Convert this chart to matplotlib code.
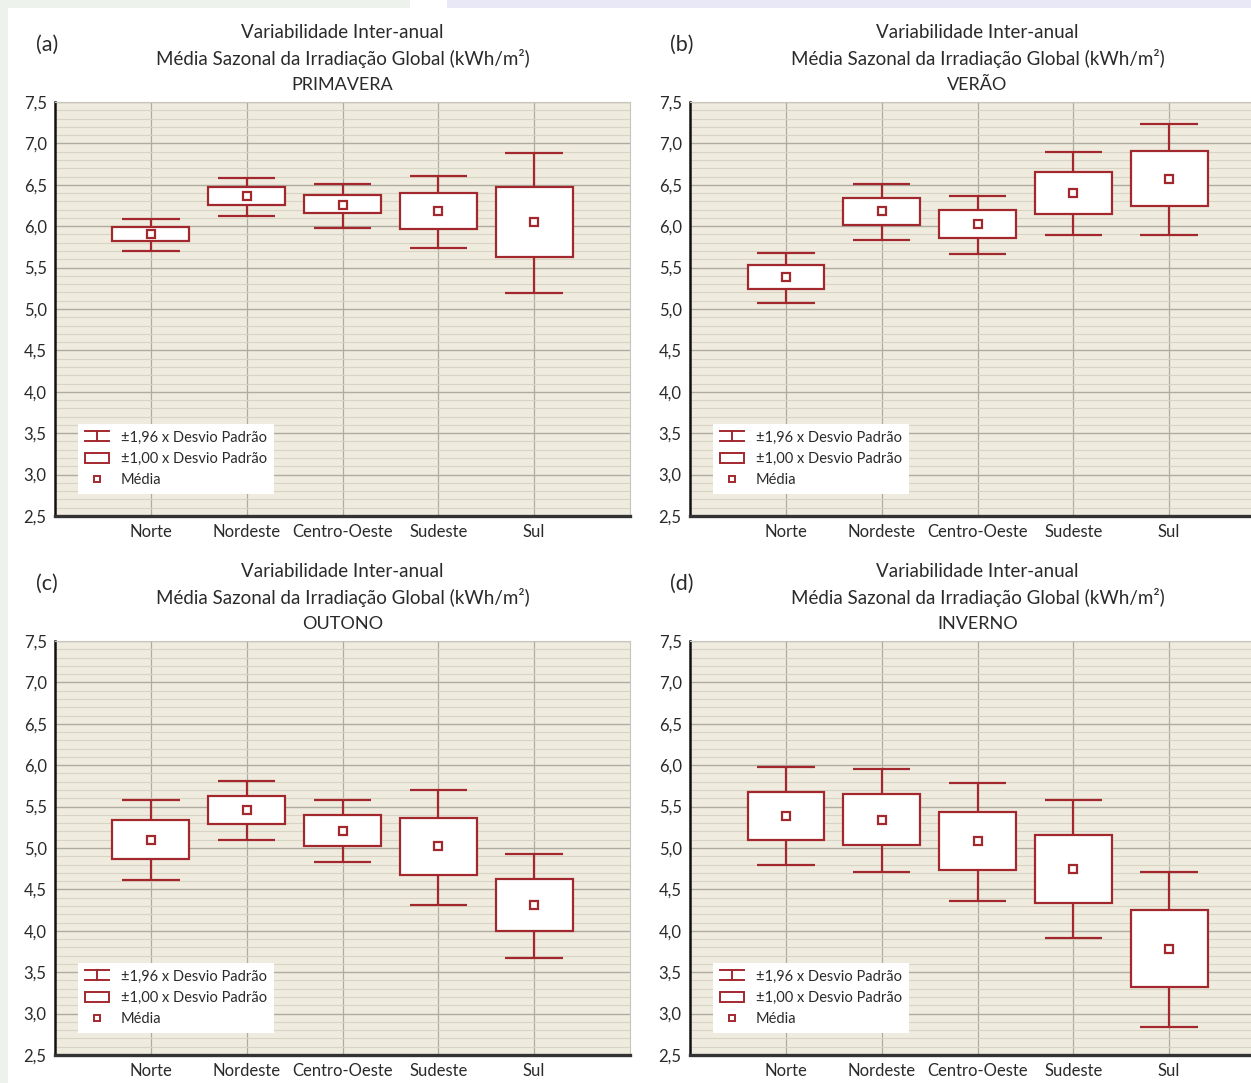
import matplotlib
matplotlib.use("Agg")
import matplotlib.pyplot as plt
from matplotlib.patches import Rectangle, Patch
from matplotlib.lines import Line2D
from matplotlib.legend_handler import HandlerBase

plt.rcParams['font.family'] = ['Lato', 'DejaVu Sans']

categories = ['Norte', 'Nordeste', 'Centro-Oeste', 'Sudeste', 'Sul']
yticks = [2.5, 3.0, 3.5, 4.0, 4.5, 5.0, 5.5, 6.0, 6.5, 7.0, 7.5]
ytick_labels = ['2,5', '3,0', '3,5', '4,0', '4,5', '5,0', '5,5', '6,0', '6,5', '7,0', '7,5']

seasons = ['PRIMAVERA', 'VERÃO', 'OUTONO', 'INVERNO']
panel_tags = ['(a)', '(b)', '(c)', '(d)']

# primavera
prim_mean = [5.91, 6.36, 6.26, 6.18, 6.05]
prim_box_hi = [5.99, 6.47, 6.38, 6.40, 6.47]
prim_box_lo = [5.82, 6.26, 6.16, 5.97, 5.63]
prim_wh_hi = [6.09, 6.58, 6.51, 6.61, 6.88]
prim_wh_lo = [5.70, 6.12, 5.98, 5.74, 5.19]

# verao
ver_mean = [5.39, 6.18, 6.03, 6.40, 6.57]
ver_box_hi = [5.53, 6.34, 6.20, 6.65, 6.91]
ver_box_lo = [5.24, 6.01, 5.86, 6.15, 6.24]
ver_wh_hi = [5.68, 6.51, 6.36, 6.90, 7.24]
ver_wh_lo = [5.07, 5.83, 5.66, 5.89, 5.89]

# outono
out_mean = [5.10, 5.46, 5.21, 5.02, 4.31]
out_box_hi = [5.34, 5.63, 5.40, 5.36, 4.62]
out_box_lo = [4.87, 5.29, 5.03, 4.67, 4.00]
out_wh_hi = [5.58, 5.81, 5.58, 5.70, 4.93]
out_wh_lo = [4.61, 5.10, 4.83, 4.31, 3.67]

# inverno
inv_mean = [5.39, 5.34, 5.08, 4.75, 3.78]
inv_box_hi = [5.68, 5.65, 5.44, 5.16, 4.25]
inv_box_lo = [5.10, 5.04, 4.73, 4.34, 3.32]
inv_wh_hi = [5.98, 5.96, 5.79, 5.58, 4.71]
inv_wh_lo = [4.79, 4.71, 4.36, 3.91, 2.84]

RED = '#a3282e'
TXT = '#2a2a2a'


class IBeamHandler(HandlerBase):
    def create_artists(self, legend, orig_handle, xdescent, ydescent,
                       width, height, fontsize, trans):
        x0 = -xdescent
        cx = x0 + width / 2
        y0 = -ydescent
        kw = dict(color=RED, lw=1.4, transform=trans)
        return [Line2D([x0, x0 + width], [y0 + height, y0 + height], **kw),
                Line2D([x0, x0 + width], [y0, y0], **kw),
                Line2D([cx, cx], [y0, y0 + height], **kw)]


def draw_panel(ax, tag, season, mean, box_lo, box_hi, wh_lo, wh_hi):
    x = list(range(len(categories)))
    ax.set_facecolor('#efecdf')
    ax.set_xlim(-1, 5)
    ax.set_ylim(2.5, 7.5)
    ax.set_yticks(yticks)
    ax.set_yticklabels(ytick_labels)
    ax.set_yticks([v / 10 for v in range(25, 76)], minor=True)
    ax.set_xticks(x)
    ax.set_xticklabels(categories)
    ax.tick_params(length=0, labelsize=12, colors=TXT, pad=6)
    ax.tick_params(which='minor', length=0)
    ax.grid(axis='y', which='minor', color='#d8d4c4', lw=0.8, zorder=0)
    ax.grid(axis='y', which='major', color='#aeaba0', lw=1.0, zorder=0)
    ax.grid(axis='x', which='major', color='#aeaba0', lw=0.9, zorder=0)
    ax.set_axisbelow(True)

    ax.vlines(x, wh_lo, wh_hi, color=RED, lw=1.6, zorder=2)
    ax.hlines(wh_lo, [v - 0.3 for v in x], [v + 0.3 for v in x], color=RED, lw=1.6, zorder=2)
    ax.hlines(wh_hi, [v - 0.3 for v in x], [v + 0.3 for v in x], color=RED, lw=1.6, zorder=2)
    ax.bar(x, [h - l for h, l in zip(box_hi, box_lo)], bottom=box_lo, width=0.8,
           facecolor='white', edgecolor=RED, lw=1.6, zorder=3)
    ax.plot(x, mean, ls='none', marker='s', ms=6, mfc='white', mec=RED, mew=1.6, zorder=4)

    ax.spines['left'].set_color('#111111')
    ax.spines['left'].set_linewidth(1.8)
    ax.spines['bottom'].set_color('#333333')
    ax.spines['bottom'].set_linewidth(2.4)
    ax.spines['top'].set_color('#c8c5bb')
    ax.spines['right'].set_color('#c8c5bb')

    ax.text(0.5, 1.169, 'Variabilidade Inter-anual', transform=ax.transAxes,
            ha='center', va='center', fontsize=13.5, color=TXT)
    ax.text(0.5, 1.104, 'Média Sazonal da Irradiação Global (kWh/m²)', transform=ax.transAxes,
            ha='center', va='center', fontsize=13.5, color=TXT)
    ax.text(0.5, 1.041, season, transform=ax.transAxes,
            ha='center', va='center', fontsize=13, color=TXT)
    ax.text(-0.014, 1.138, tag, transform=ax.transAxes,
            ha='center', va='center', fontsize=15.5, color=TXT)

    handles = [Line2D([], []),
               Patch(facecolor='white', edgecolor=RED, lw=1.4),
               Line2D([], [], ls='none', marker='s', ms=5, mfc='white', mec=RED, mew=1.4)]
    labels = ['±1,96 x Desvio Padrão', '±1,00 x Desvio Padrão', 'Média']
    leg = ax.legend(handles, labels, loc='lower left', bbox_to_anchor=(0.04, 0.054),
                    borderaxespad=0, fontsize=10.5, frameon=True, fancybox=False,
                    handlelength=1.7, handleheight=0.7, handletextpad=0.8,
                    labelspacing=0.5, borderpad=0.45,
                    handler_map={handles[0]: IBeamHandler()})
    leg.get_frame().set_facecolor('white')
    leg.get_frame().set_edgecolor('none')
    leg.get_frame().set_alpha(1)
    for t in leg.get_texts():
        t.set_color(TXT)


fig = plt.figure(figsize=(12.51, 10.83), dpi=100)
fig.patch.set_facecolor('white')
fig.patches.append(Rectangle((0, 0), 8 / 1251, 1, transform=fig.transFigure,
                             facecolor='#edf2ec', edgecolor='none'))
fig.patches.append(Rectangle((0, 1 - 8 / 1083), 410 / 1251, 8 / 1083, transform=fig.transFigure,
                             facecolor='#edf2ec', edgecolor='none'))
fig.patches.append(Rectangle((447 / 1251, 1 - 8 / 1083), 1 - 447 / 1251, 8 / 1083,
                             transform=fig.transFigure, facecolor='#e9e8f6', edgecolor='none'))

w = 575 / 1251
h = 414 / 1083
ax_a = fig.add_axes([55 / 1251, 1 - 516 / 1083, w, h])
ax_b = fig.add_axes([690 / 1251, 1 - 516 / 1083, w, h])
ax_c = fig.add_axes([55 / 1251, 1 - 1055 / 1083, w, h])
ax_d = fig.add_axes([690 / 1251, 1 - 1055 / 1083, w, h])

draw_panel(ax_a, panel_tags[0], seasons[0], prim_mean, prim_box_lo, prim_box_hi, prim_wh_lo, prim_wh_hi)
draw_panel(ax_b, panel_tags[1], seasons[1], ver_mean, ver_box_lo, ver_box_hi, ver_wh_lo, ver_wh_hi)
draw_panel(ax_c, panel_tags[2], seasons[2], out_mean, out_box_lo, out_box_hi, out_wh_lo, out_wh_hi)
draw_panel(ax_d, panel_tags[3], seasons[3], inv_mean, inv_box_lo, inv_box_hi, inv_wh_lo, inv_wh_hi)

fig.savefig('out.png', dpi=100, facecolor=fig.get_facecolor())
